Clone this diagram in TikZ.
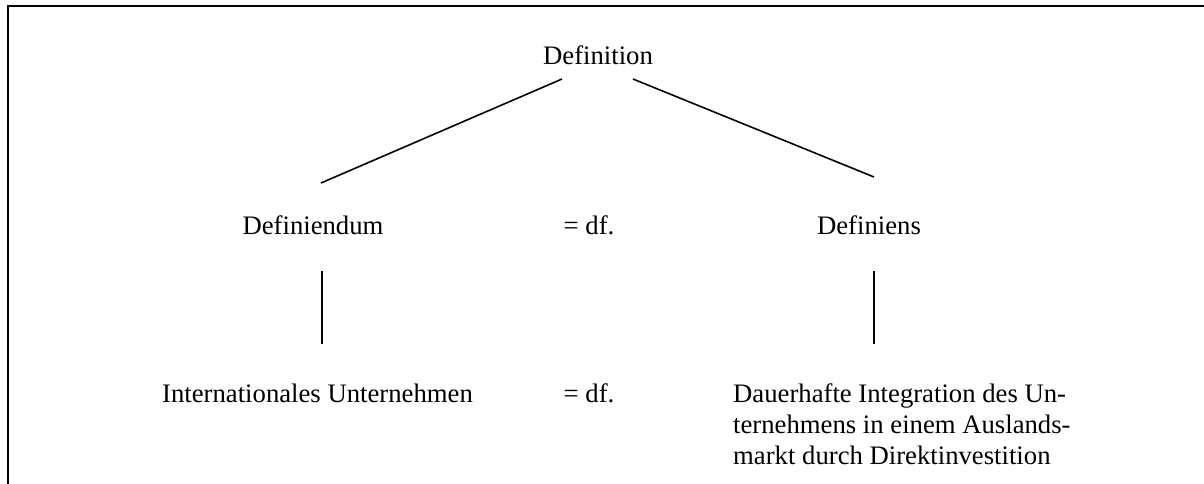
\documentclass[tikz,border=0pt]{standalone}
\usepackage{fontspec}
\setmainfont{Liberation Serif}
\begin{document}
\begin{tikzpicture}[x=1pt,y=-1pt,
  lbl/.style={inner sep=0pt,font=\fontsize{26.7}{31}\selectfont},
  conn/.style={line width=1.6pt},
  frame/.style={line width=2pt}]
\useasboundingbox (0,0) rectangle (1204,484);
\draw[frame] (8,484) -- (8,6) -- (1204,6);
\node[lbl,anchor=base] (def) at (598,65) {Definition};
\node[lbl,anchor=base] (dfd) at (313,234) {Definiendum};
\node[lbl,anchor=base] (eq1) at (589,234) {= df.};
\node[lbl,anchor=base] (dfs) at (869,234) {Definiens};
\node[lbl,anchor=base west] (iu) at (162,402) {Internationales Unternehmen};
\node[lbl,anchor=base] (eq2) at (589,402) {= df.};
\node[lbl,anchor=north west,align=left,text depth=0pt] (dauer) at (733,383) {Dauerhafte Integration des Un-\\ternehmens in einem Auslands-\\markt durch Direktinvestition};
\coordinate (a1) at (562,79);
\coordinate (a2) at (321,183);
\coordinate (b1) at (633,79);
\coordinate (b2) at (874,177);
\coordinate (c1) at (322,271);
\coordinate (c2) at (322,344);
\coordinate (d1) at (874,271);
\coordinate (d2) at (874,344);
\draw[conn] (a1) -- (a2);
\draw[conn] (b1) -- (b2);
\draw[conn] (c1) -- (c2);
\draw[conn] (d1) -- (d2);
\end{tikzpicture}
\end{document}
